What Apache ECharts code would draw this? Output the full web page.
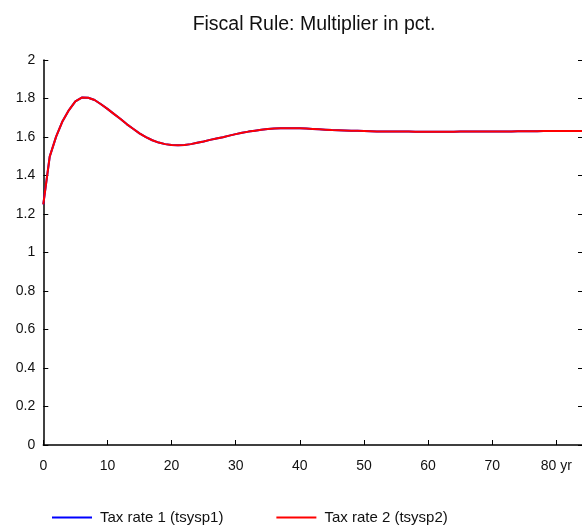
<!DOCTYPE html>
<html>
<head>
<meta charset="utf-8">
<script src="https://cdn.jsdelivr.net/npm/echarts@6/dist/echarts.min.js"></script>
<style>
html,body{margin:0;padding:0;background:#fff;}
#chart{width:582px;height:527px;}
</style>
</head>
<body>
<div id="chart"></div>
<script>
const years = [];
for (let i = 0; i <= 84; i++) years.push(i);

const tsysp1 = [
  1.250, 1.498, 1.602, 1.682, 1.740, 1.785, 1.805, 1.804, 1.792, 1.770,
  1.746, 1.720, 1.695, 1.667, 1.643, 1.619, 1.599, 1.583, 1.571, 1.563,
  1.558, 1.557, 1.559, 1.563, 1.570, 1.577, 1.585, 1.592, 1.599, 1.607,
  1.615, 1.622, 1.628, 1.633, 1.638, 1.641, 1.644, 1.645, 1.646, 1.646,
  1.645, 1.644, 1.642, 1.640, 1.638, 1.636, 1.635, 1.634, 1.633, 1.632,
  1.631, 1.630, 1.629, 1.629, 1.628, 1.628, 1.628, 1.628, 1.627, 1.627,
  1.627, 1.627, 1.627, 1.627, 1.627, 1.628, 1.628, 1.628, 1.628, 1.628,
  1.629, 1.629, 1.629, 1.629, 1.630, 1.630, 1.630, 1.630, 1.631, 1.631,
  1.631, 1.631, 1.631, 1.631, 1.631
];
const tsysp2 = [
  1.250, 1.498, 1.602, 1.682, 1.740, 1.785, 1.805, 1.804, 1.792, 1.770,
  1.746, 1.720, 1.695, 1.667, 1.643, 1.619, 1.599, 1.583, 1.571, 1.563,
  1.558, 1.557, 1.559, 1.563, 1.570, 1.577, 1.585, 1.592, 1.599, 1.607,
  1.615, 1.622, 1.628, 1.633, 1.638, 1.641, 1.644, 1.645, 1.646, 1.646,
  1.645, 1.644, 1.642, 1.640, 1.638, 1.636, 1.635, 1.634, 1.633, 1.632,
  1.631, 1.630, 1.629, 1.629, 1.628, 1.628, 1.628, 1.628, 1.627, 1.627,
  1.627, 1.627, 1.627, 1.627, 1.627, 1.628, 1.628, 1.628, 1.628, 1.628,
  1.629, 1.629, 1.629, 1.629, 1.630, 1.630, 1.630, 1.630, 1.631, 1.631,
  1.631, 1.631, 1.631, 1.631, 1.631
];
const seriesNames = ['Tax rate 1 (tsysp1)', 'Tax rate 2 (tsysp2)'];
const titleText = 'Fiscal Rule: Multiplier in pct.';

const FONT = '"Liberation Sans", Arial, sans-serif';
const chart = echarts.init(document.getElementById('chart'), null, {renderer: 'canvas'});
chart.setOption({
  animation: false,
  backgroundColor: '#fff',
  title: {
    text: titleText,
    left: 309, top: 10, textAlign: 'center',
    textStyle: {fontFamily: FONT, fontSize: 19.5, fontWeight: 'normal', color: '#111'}
  },
  legend: {
    left: 52, top: 510, padding: 0,
    icon: 'rect', itemWidth: 40, itemHeight: 2, itemGap: 53,
    textStyle: {fontFamily: FONT, fontSize: 15, color: '#111', padding: [0, 0, 0, 3]},
    data: seriesNames
  },
  grid: {left: 43.3, top: 60, width: 540.6, bottom: 82, containLabel: false},
  xAxis: {
    type: 'value', min: 0, max: 84, interval: 10,
    axisLine: {show: true, lineStyle: {color: '#000', width: 1.5}},
    axisTick: {show: true, inside: true, length: 5, lineStyle: {color: '#000'}},
    axisLabel: {
      margin: 14, fontFamily: FONT, fontSize: 14, color: '#111',
      showMaxLabel: false,
      formatter: v => (v === 80 ? '80 yr' : String(v))
    },
    splitLine: {show: false}
  },
  yAxis: [{
    type: 'value', min: 0, max: 2, interval: 0.2,
    axisLine: {show: true, lineStyle: {color: '#000', width: 1.5}},
    axisTick: {show: true, inside: true, length: 5, lineStyle: {color: '#000'}},
    axisLabel: {
      margin: 8, fontFamily: FONT, fontSize: 14, color: '#111',
      formatter: v => String(Math.round(v * 10) / 10)
    },
    splitLine: {show: false}
  }, {
    type: 'value', min: 0, max: 2, interval: 0.2, position: 'right',
    axisLine: {show: false},
    axisTick: {show: true, inside: true, length: 4, lineStyle: {color: '#000'}},
    axisLabel: {show: false},
    splitLine: {show: false}
  }],
  series: [{
    name: seriesNames[0], type: 'line', symbol: 'none', smooth: false,
    data: years.map((x, i) => [x, tsysp1[i]]),
    lineStyle: {color: '#0000ff', width: 2}, itemStyle: {color: '#0000ff'}
  }, {
    name: seriesNames[1], type: 'line', symbol: 'none', smooth: false,
    data: years.map((x, i) => [x, tsysp2[i]]),
    lineStyle: {color: '#ff0000', width: 2}, itemStyle: {color: '#ff0000'}
  }]
});
</script>
</body>
</html>
